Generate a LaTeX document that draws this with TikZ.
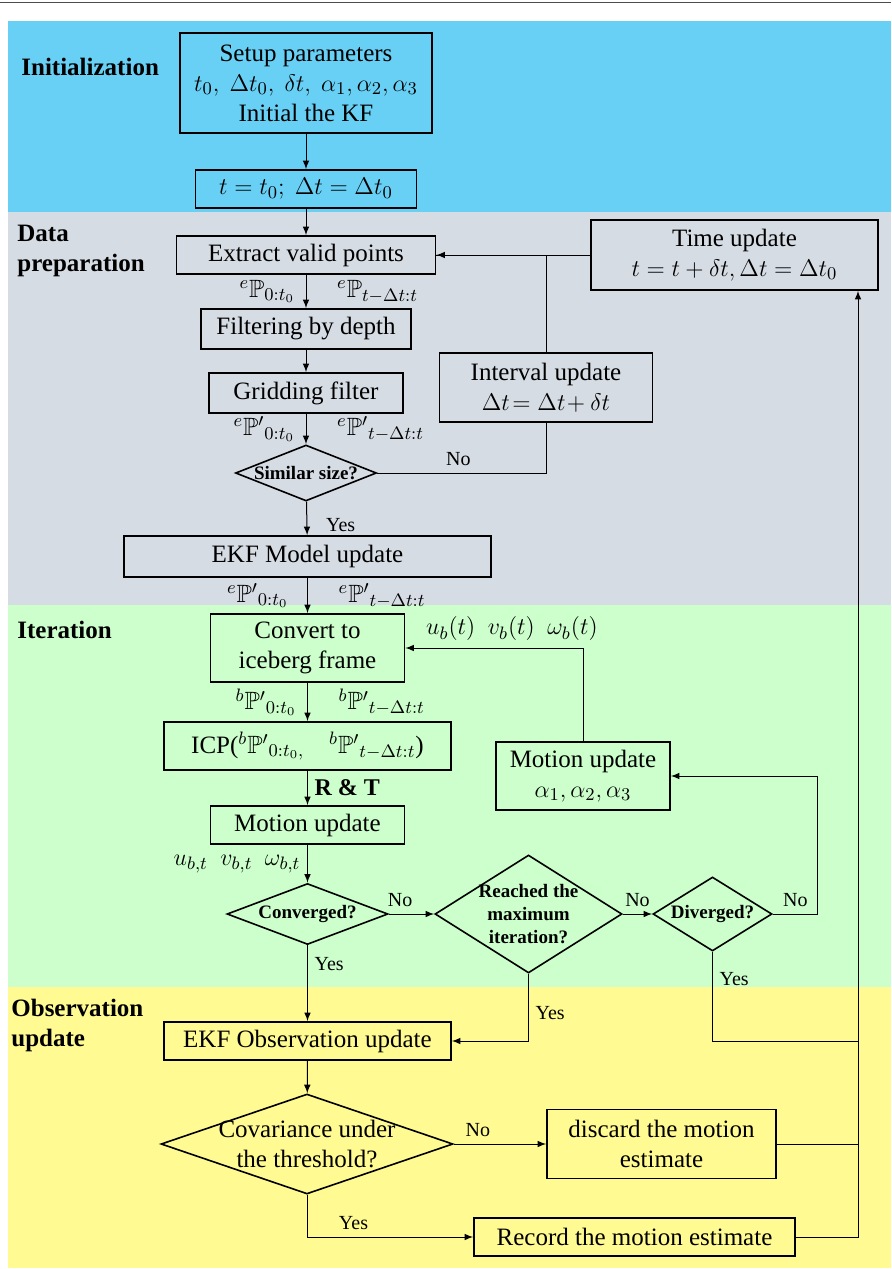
\documentclass[tikz,border=0pt]{standalone}
\usepackage{amsmath}
\usepackage{amssymb}
\usepackage{fontspec}
\setmainfont{Liberation Serif}
\usepackage{tikz}
\usetikzlibrary{arrows,shapes}

\definecolor{initblue}{RGB}{105,208,245}
\definecolor{prepgray}{RGB}{214,220,228}
\definecolor{itergreen}{RGB}{204,255,204}
\definecolor{obsyellow}{RGB}{255,250,145}

\begin{document}
\begin{tikzpicture}
	[
		x=0.5pt, y=-0.5pt,
		every node/.style = {font=\fontsize{12.5}{15}\selectfont, align=center},
		box/.style = {draw, line width=0.8pt, inner sep=2pt},
		choice/.style = {draw, diamond, line width=0.8pt, inner sep=0pt},
		dtext/.style = {font=\fontsize{9.5}{11.5}\selectfont\bfseries, align=center},
		yn/.style = {font=\fontsize{10}{12}\selectfont},
		stage/.style = {font=\fontsize{12.5}{15}\selectfont\bfseries, align=left, anchor=west, inner sep=0pt},
		flow/.style = {-latex, line width=0.5pt},
		link/.style = {line width=0.5pt},
	]

  \useasboundingbox (0,0) rectangle (891,1269);
  \fill[initblue] (8,21) rectangle (891,212);
  \fill[prepgray] (8,212) rectangle (891,605);
  \fill[itergreen] (8,605) rectangle (891,987);
  \fill[obsyellow] (8,987) rectangle (891,1268);
  \draw[gray!60!black, line width=0.6pt] (0,2.5) -- (891,2.5);

  \node[stage] (sinit) at (21,67) {Initialization};
  \node[stage] (sprep) at (17,251) {Data\\preparation};
  \node[stage] (siter) at (17,630) {Iteration};
  \node[stage] (sobs) at (11,1025) {Observation\\update};

  \node[box, minimum width=126pt, minimum height=50pt] (setup) at (306,83)
  	{Setup parameters\\$t_0,\ \Delta t_0,\ \delta t,\ \alpha_1, \alpha_2, \alpha_3$\\Initial the KF};
  \node[box, minimum width=110.5pt, minimum height=19pt] (tinit) at (306,189) {$t = t_0;\ \Delta t = \Delta t_0$};
  \node[box, minimum width=129.5pt, minimum height=19pt] (extract) at (306,255) {Extract valid points};
  \node[box, minimum width=143.5pt, minimum height=35pt] (timeup) at (734.5,255)
  	{Time update\\$t = t + \delta t, \Delta t = \Delta t_0$};
  \node[box, minimum width=105pt, minimum height=20pt] (filter) at (306,329) {Filtering by depth};
  \node[box, minimum width=97pt, minimum height=20pt] (grid) at (306,393) {Gridding filter};
  \node[box, minimum width=106.5pt, minimum height=34.5pt] (interval) at (546,387.5)
  	{Interval update\\$\Delta t\!= \Delta t\!+ \delta t$};
  \node[choice, minimum width=70.5pt, minimum height=28pt, label={[dtext]center:Similar size?}] (similar) at (306,473) {};
  \node[box, minimum width=183.5pt, minimum height=20.5pt] (ekfmodel) at (307.5,556.5) {EKF Model update};
  \node[box, minimum width=97pt, minimum height=34pt] (convert) at (307.5,648) {Convert to\\iceberg frame};
  \node[box, minimum width=143.5pt, minimum height=24pt] (icp) at (307.5,746)
  	{ICP(${}^{b}\mathbb{P}'{}_{0:t_0,}\quad {}^{b}\mathbb{P}'{}_{t-\Delta t:t}$)};
  \node[box, minimum width=97pt, minimum height=19pt] (motion) at (307.5,825) {Motion update};
  \node[box, minimum width=87pt, minimum height=34pt] (motionpar) at (583,776) {Motion update\\$\alpha_1, \alpha_2, \alpha_3$};
  \node[choice, minimum width=80.5pt, minimum height=30.5pt, label={[dtext]center:Converged?}] (converged) at (307.5,914) {};
  \node[choice, minimum width=93.5pt, minimum height=59pt,
  	label={[dtext]center:{Reached the\\maximum\\iteration?}}] (reached) at (528.5,914) {};
  \node[choice, minimum width=59.5pt, minimum height=37pt, label={[dtext]center:Diverged?}] (diverged) at (712.5,914) {};
  \node[box, minimum width=143.5pt, minimum height=19pt] (ekfobs) at (307.5,1041) {EKF Observation update};
  \node[choice, minimum width=146pt, minimum height=50pt,
  	label={[align=center]center:{Covariance under\\the threshold?}}] (covar) at (307,1144) {};
  \node[box, minimum width=114.5pt, minimum height=34.5pt] (discard) at (661.5,1144) {discard the motion\\estimate};
  \node[box, minimum width=160.5pt, minimum height=19pt] (record) at (634.5,1237) {Record the motion estimate};
  \coordinate (bus) at (858,1237);

  \path[flow]
  (setup) edge (tinit)
  (tinit) edge (extract)
  (extract) edge node [left, xshift=-2pt] {${}^{e}\mathbb{P}_{0:t_0}$}
  	node [right, xshift=12pt] {${}^{e}\mathbb{P}_{t-\Delta t:t}$} (filter)
  (filter) edge (grid)
  (grid) edge node [left, xshift=-2pt] {${}^{e}\mathbb{P}'{}_{0:t_0}$}
  	node [right, xshift=12pt] {${}^{e}\mathbb{P}'{}_{t-\Delta t:t}$} (similar)
  (similar) edge node [right, yn, pos=0.7, xshift=6pt] {Yes} (ekfmodel)
  (ekfmodel) edge node [left, xshift=-6pt] {${}^{e}\mathbb{P}'{}_{0:t_0}$}
  	node [right, xshift=12pt] {${}^{e}\mathbb{P}'{}_{t-\Delta t:t}$} (convert)
  (convert) edge node [left, xshift=-2pt] {${}^{b}\mathbb{P}'{}_{0:t_0}$}
  	node [right, xshift=12pt] {${}^{b}\mathbb{P}'{}_{t-\Delta t:t}$} (icp)
  (icp) edge node [right, font=\fontsize{12}{14}\selectfont\bfseries] {R \& T} (motion)
  (motion) edge node [left] {$u_{b,t}\ \ v_{b,t}\ \ \omega_{b,t}$} (converged)
  (converged) edge node [above, yn, pos=0.25] {No} (reached)
  (reached) edge node [above, yn] {No} (diverged)
  (converged) edge node [right, yn, pos=0.25] {Yes} (ekfobs)
  (ekfobs) edge (covar)
  (covar) edge node [above, yn, pos=0.26] {No} (discard)
  (timeup) edge (extract);

  \draw[link] (similar.east) -| node [above, yn, pos=0.24] {No} (interval.south);
  \draw[link] (interval.north) |- (extract.east);
  \draw[flow] (diverged.east) -- node [above, yn] {No} ++(45,0) |- (motionpar.east);
  \draw[flow] (motionpar.north) |- node [above, pos=0.7] {$u_b(t)\ \ v_b(t)\ \ \omega_b(t)$} (convert.east);
  \draw[flow] (reached.south) |- node [right, yn, pos=0.29] {Yes} (ekfobs.east);
  \draw[link] (diverged.south) |- node [right, yn, pos=0.15] {Yes} (ekfobs.east -| bus);
  \draw[link] (discard.east) -- (discard.east -| bus);
  \draw[flow] (covar.south) |- node [above, yn, pos=0.64] {Yes} (record.west);
  \draw[flow] (record.east) -- (bus) -- (bus |- timeup.south);

\end{tikzpicture}
\end{document}
